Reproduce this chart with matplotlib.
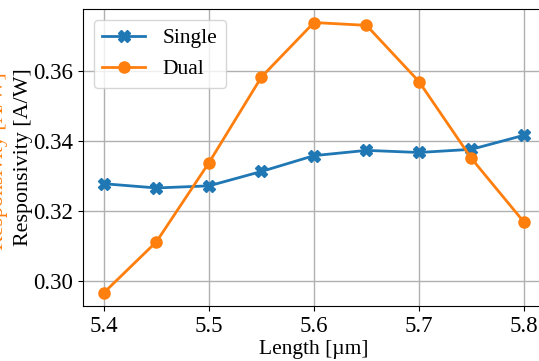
import numpy as np
import matplotlib.pyplot as plt

plt.rcParams['font.family'] = ['Liberation Serif', 'DejaVu Serif']

length = [5.4, 5.45, 5.5, 5.55, 5.6, 5.65, 5.7, 5.75, 5.8]
single = [0.3278, 0.3266, 0.3272, 0.3313, 0.3358, 0.3373, 0.3367, 0.3376, 0.3416]
dual = [0.2968, 0.3113, 0.3338, 0.3582, 0.3737, 0.3729, 0.3569, 0.3350, 0.3169]

fig = plt.figure(figsize=(5.39, 3.61), dpi=100)
ax = fig.add_axes([0.154, 0.152, 0.857, 0.823])

ax.plot(length, single, color='C0', marker='X', markersize=8, linewidth=2, label='Single')
ax.plot(length, dual, color='C1', marker='o', markersize=8, linewidth=2, label='Dual')

ax.set_xlabel('Length [µm]', fontsize=15.5, labelpad=2)
ax.set_ylabel('Responsivity [A/W]', fontsize=15.8, labelpad=0.5)
ax.tick_params(labelsize=16.5)
ax.set_xticks([5.4, 5.5, 5.6, 5.7, 5.8])
ax.set_yticks([0.30, 0.32, 0.34, 0.36])
ax.grid(True, color='#b0b0b0', linewidth=1)
ax.set_axisbelow(True)
ax.legend(loc='upper left', fontsize=15.5)

# second label, mostly outside the canvas on the left
fig.text(-0.003, 0.555, 'Responsivity [A/W]', color='C1', fontsize=15.8,
         rotation=90, ha='center', va='center')

fig.savefig('out.png', dpi=100)
